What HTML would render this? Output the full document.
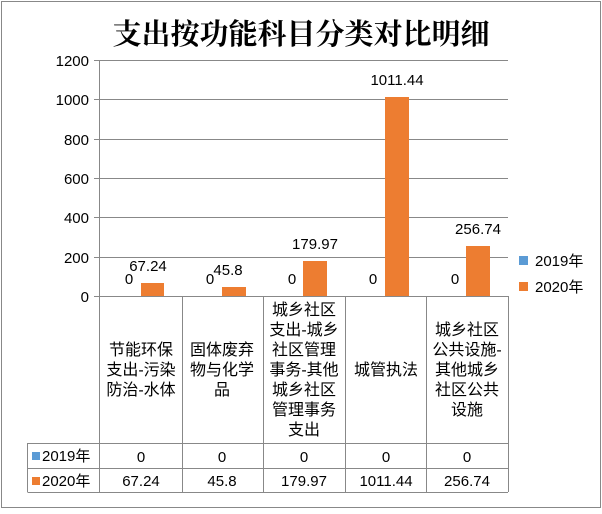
<!DOCTYPE html><html><head><meta charset="utf-8"><style>
body{margin:0;background:#fff}
svg text{font-family:"Liberation Sans","Noto Sans CJK SC",sans-serif;fill:#000}
</style></head><body>
<svg width="602" height="509" xmlns="http://www.w3.org/2000/svg">
<rect x="1.5" y="1.5" width="599" height="506" fill="#fff" stroke="#888"/>
<text x="301" y="44" text-anchor="middle" font-size="29" font-weight="bold" style="font-family:'Noto Serif CJK SC',serif">支出按功能科目分类对比明细</text>
<g stroke="#888" stroke-width="1">
<line x1="94" y1="60.5" x2="508" y2="60.5"/><line x1="94" y1="99.5" x2="508" y2="99.5"/><line x1="94" y1="139.5" x2="508" y2="139.5"/><line x1="94" y1="178.5" x2="508" y2="178.5"/><line x1="94" y1="217.5" x2="508" y2="217.5"/><line x1="94" y1="257.5" x2="508" y2="257.5"/><line x1="94" y1="296.5" x2="508" y2="296.5"/>
<line x1="99.5" y1="60" x2="99.5" y2="492"/>
<line x1="182.5" y1="296" x2="182.5" y2="492"/><line x1="263.5" y1="296" x2="263.5" y2="492"/><line x1="345.5" y1="296" x2="345.5" y2="492"/><line x1="426.5" y1="296" x2="426.5" y2="492"/><line x1="508.5" y1="296" x2="508.5" y2="492"/>
<line x1="27.5" y1="443.5" x2="508" y2="443.5"/><line x1="27.5" y1="468.5" x2="508" y2="468.5"/><line x1="27.5" y1="492.5" x2="508" y2="492.5"/>
<line x1="27.5" y1="443" x2="27.5" y2="492"/>
</g>
<g font-size="15" text-anchor="end">
<text x="89" y="66">1200</text><text x="89" y="105">1000</text><text x="89" y="145">800</text><text x="89" y="184">600</text><text x="89" y="223">400</text><text x="89" y="263">200</text><text x="89" y="302">0</text></g>
<g fill="#ed7d31">
<rect x="141" y="283" width="23" height="13"/>
<rect x="222" y="287" width="24" height="9"/>
<rect x="303" y="261" width="24" height="35"/>
<rect x="385" y="97" width="24" height="199"/>
<rect x="466" y="246" width="24" height="50"/></g>
<g font-size="15" text-anchor="middle">
<text x="129" y="284">0</text><text x="148" y="271">67.24</text>
<text x="210" y="284">0</text><text x="228" y="275">45.8</text>
<text x="292" y="284">0</text><text x="315" y="249">179.97</text>
<text x="373" y="284">0</text><text x="397" y="85">1011.44</text>
<text x="455" y="284">0</text><text x="478" y="234">256.74</text>
</g>
<rect x="519" y="256" width="9" height="9" fill="#5b9bd5"/><text x="535" y="266" font-size="15">2019年</text>
<rect x="519" y="282" width="9" height="9" fill="#ed7d31"/><text x="535" y="292" font-size="15">2020年</text>
<g font-size="16" text-anchor="middle">
<text x="141" y="355">节能环保</text><text x="141" y="375">支出-污染</text><text x="141" y="395">防治-水体</text>
<text x="222" y="355">固体废弃</text><text x="222" y="375">物与化学</text><text x="222" y="395">品</text>
<text x="304" y="315">城乡社区</text><text x="304" y="335">支出-城乡</text><text x="304" y="355">社区管理</text><text x="304" y="375">事务-其他</text><text x="304" y="395">城乡社区</text><text x="304" y="415">管理事务</text><text x="304" y="435">支出</text>
<text x="386" y="375">城管执法</text>
<text x="467" y="335">城乡社区</text><text x="467" y="355">公共设施-</text><text x="467" y="375">其他城乡</text><text x="467" y="395">社区公共</text><text x="467" y="415">设施</text>
</g>
<rect x="32" y="452" width="8" height="8" fill="#5b9bd5"/><text x="42" y="461" font-size="15">2019年</text>
<rect x="32" y="477" width="8" height="8" fill="#ed7d31"/><text x="42" y="486" font-size="15">2020年</text>
<g font-size="15" text-anchor="middle">
<text x="141" y="462">0</text><text x="222" y="462">0</text><text x="304" y="462">0</text><text x="386" y="462">0</text><text x="467" y="462">0</text>
<text x="141" y="486">67.24</text><text x="222" y="486">45.8</text><text x="304" y="486">179.97</text><text x="386" y="486">1011.44</text><text x="467" y="486">256.74</text>
</g>
</svg></body></html>
